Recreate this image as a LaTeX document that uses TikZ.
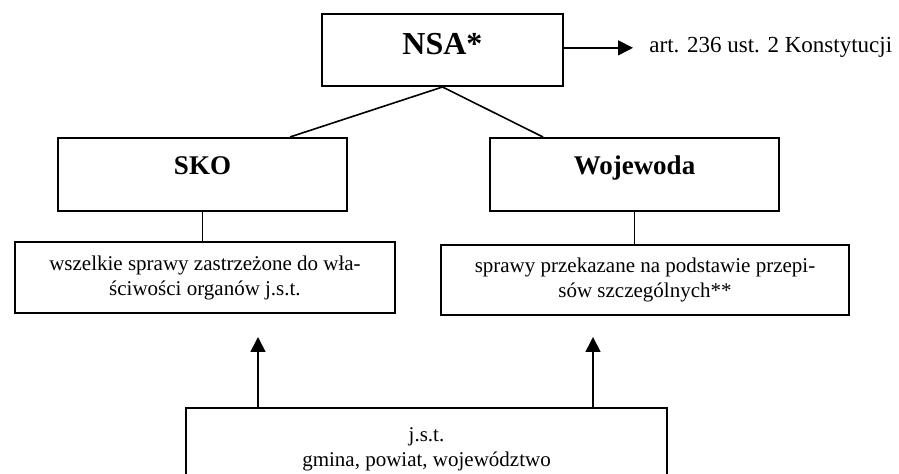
\documentclass[tikz,border=0pt]{standalone}
\usepackage{fontspec}
\setmainfont{Liberation Serif}
\usepackage{tikz}
\usetikzlibrary{arrows.meta}
\tikzset{head/.style = {draw, line width=1pt, align=center, text centered, inner ysep=0pt, font=\fontsize{13.5}{16}\selectfont\bfseries, minimum width=144.5pt, text height=18.5pt, text depth=18pt}}
\tikzset{box/.style = {draw, line width=1pt, align=center, text centered, font=\fontsize{10.5}{12.5}\selectfont}}
\tikzset{link/.style = {line width=.8pt}}
\tikzset{arr/.style = {line width=.8pt, -{Triangle[length=7.5pt, width=7.5pt]}}}

\begin{document}
\begin{tikzpicture}[x=0.5pt, y=-0.5pt]

\useasboundingbox (0,0) rectangle (899,474);

\node[head, font=\fontsize{16}{19}\selectfont\bfseries, minimum width=120.5pt, text height=20.5pt, text depth=15.5pt] (nsa) at (442.5,50) {NSA*};
\node[anchor=base west, inner sep=0pt, inner xsep=8pt, font=\fontsize{11.5}{14}\selectfont] (art) at (633,53) {art. 236 ust. 2 Konstytucji};
\node[head] (sko) at (202.5,174.5) {SKO};
\node[head] (woj) at (634.5,174.5) {Wojewoda};
\node[box, minimum width=190pt, minimum height=35.5pt] (wlasc) at (205,277.5) {
  wszelkie sprawy zastrzeżone do wła-\\
  ściwości organów j.s.t.
};
\node[box, minimum width=204pt, minimum height=35pt] (przep) at (645,280) {
  sprawy przekazane na podstawie przepi-\\
  sów szczególnych**
};
% bottom edge of jst lies below the page
\node[box, minimum width=240.5pt, minimum height=41pt] (jst) at (426.5,449) {
  j.s.t.\\
  gmina, powiat, województwo
};

\draw[arr]  (nsa.east |- art.west) -- (art.west);
\draw[link] (nsa.south) -- ([xshift=43.75pt]sko.north);
\draw[link] (nsa.south) -- ([xshift=-45.75pt]woj.north);
\draw[link] (sko.south) -- (sko.south |- wlasc.north);
\draw[link] (woj.south) -- (woj.south |- przep.north);
\draw[arr, shorten >=11.5pt]  ([xshift=-84.25pt]jst.north) -- ([xshift=-84.25pt]jst.north |- wlasc.south);
\draw[arr, shorten >=10.5pt]  ([xshift=83.25pt]jst.north) -- ([xshift=83.25pt]jst.north |- przep.south);

\end{tikzpicture}
\end{document}
